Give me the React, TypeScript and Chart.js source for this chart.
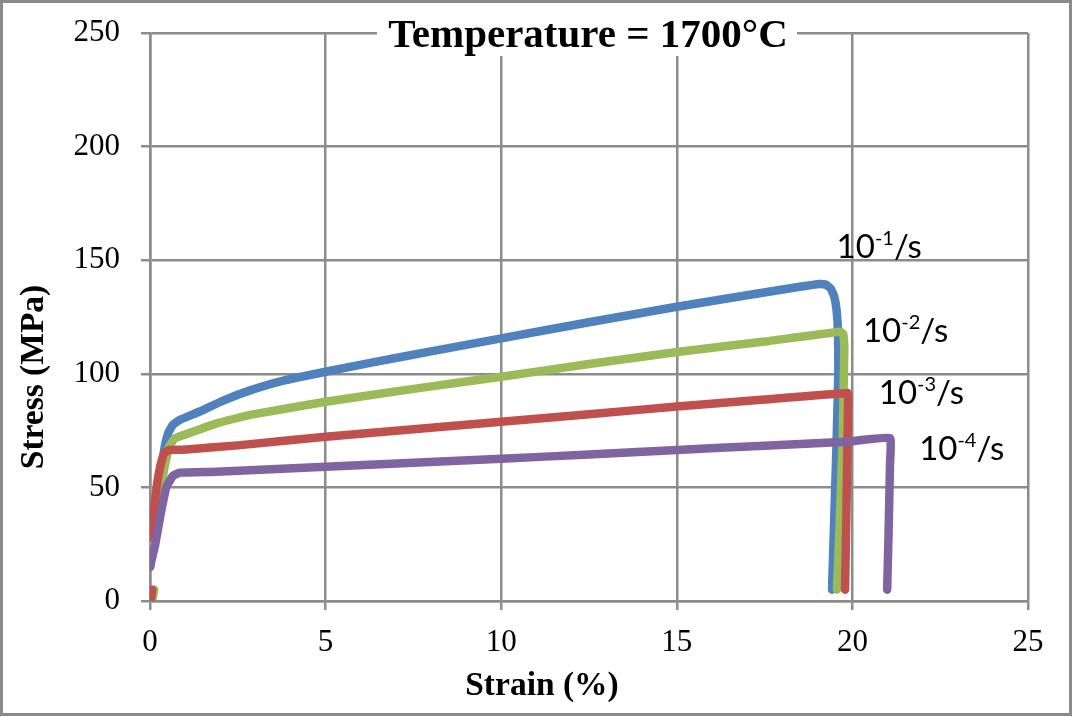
import React, { useEffect, useRef } from 'react';
import { Chart, registerables } from 'chart.js';

Chart.register(...registerables);

// ---- Data (strain %, stress MPa) ----
const strain1 = [0, 0.15, 0.3, 0.42, 0.52, 0.65, 0.85, 1.4, 2.1, 2.85, 3.8, 5, 6.6, 8, 10, 12.5, 15, 17, 18.5, 19.08, 19.25, 19.38, 19.48, 19.55, 19.59, 19.6, 19.55, 19.48, 19.42];
const stress1 = [15, 35, 55, 68, 74, 77.5, 79.7, 83.3, 88.3, 92.7, 97.0, 100.9, 105.8, 109.9, 115.6, 122.7, 129.5, 134.6, 138.3, 139.5, 139.2, 137.6, 134.2, 128, 118, 101.7, 70, 35, 5];

const strain2 = [0.08, 0.12, NaN, 0, 0.2, 0.4, 0.55, 0.7, 0.95, 1.9, 2.85, 5, 7.6, 10, 12.5, 15, 17.5, 19.65, 19.74, 19.77, 19.72, 19.64, 19.56];
const stress2 = [1.5, 5, null, 15, 38, 58, 68, 71.5, 73, 78.2, 81.9, 87.7, 93.6, 98.7, 104.3, 109.6, 114.2, 118.5, 117.5, 112, 70, 35, 5];

const strain3 = [0.03, 0.06, NaN, 0, 0.1, 0.19, 0.3, 0.4, 0.55, 0.95, 2.5, 5, 7.5, 10, 12.5, 15, 17.5, 19.86, 19.88, 19.85, 19.82, 19.79];
const stress3 = [1, 5, null, 28, 38, 50.3, 60, 65, 66.5, 66.6, 68.5, 72.3, 75.6, 78.9, 82.2, 85.6, 88.7, 91.6, 90, 60, 30, 5];

const strain4 = [0, 0.15, 0.3, 0.47, 0.65, 0.85, 1.9, 5, 7.5, 10, 12.5, 15, 17.5, 19.84, 21.07, 21.07, 21.03, 20.99];
const stress4 = [15, 25, 38, 50.3, 55, 56.5, 56.9, 59.1, 60.9, 62.6, 64.5, 66.5, 68.3, 70.1, 71.7, 60, 30, 5];

const seriesColors = ['#4F81BD', '#9BBB59', '#C0504D', '#8064A2'];

const xTicks = [0, 5, 10, 15, 20, 25];
const yTicks = [0, 50, 100, 150, 200, 250];

// Rate labels
const rateExponents = ['-1', '-2', '-3', '-4'];
const labelStrain = [19.55, 20.3, 20.75, 21.9];
const labelStress = [151, 114, 86.7, 62];

const chartTitle = 'Temperature = 1700°C';
const xTitle = 'Strain (%)';
const yTitle = 'Stress (MPa)';

const GRID = '#8c8c8c';

const pts = (xs: number[], ys: (number | null)[]) => xs.map((x, i) => ({ x, y: ys[i] }));

export default function App() {
  const ref = useRef<HTMLCanvasElement | null>(null);

  useEffect(() => {
    document.body.style.margin = '0';
    const canvas = ref.current;
    if (!canvas) return;

    const bgPlugin = {
      id: 'bg',
      beforeDraw(chart: any) {
        const { ctx, width, height } = chart;
        ctx.save();
        ctx.fillStyle = '#ffffff';
        ctx.fillRect(0, 0, width, height);
        ctx.restore();
      },
      afterDraw(chart: any) {
        const { ctx, width, height } = chart;
        ctx.save();
        ctx.strokeStyle = '#8a8a8a';
        ctx.lineWidth = 3;
        ctx.strokeRect(1.5, 1.5, width - 3, height - 3);
        // chart title with white backing
        ctx.fillStyle = '#ffffff';
        ctx.fillRect(377, 12, 420, 44);
        ctx.fillStyle = '#000000';
        ctx.font = 'bold 41px "Liberation Serif"';
        ctx.textAlign = 'center';
        ctx.textBaseline = 'middle';
        ctx.fillText(chartTitle, 588, 36);
        // axis titles
        ctx.font = 'bold 33.5px "Liberation Serif"';
        ctx.fillText(xTitle, 542, 686);
        ctx.translate(34, 377);
        ctx.rotate(-Math.PI / 2);
        ctx.fillText(yTitle, 0, 0);
        ctx.restore();
      },
    };

    const labelPlugin = {
      id: 'rateLabels',
      afterDatasetsDraw(chart: any) {
        const { ctx } = chart;
        const xs = chart.scales.x;
        const ys = chart.scales.y;
        ctx.save();
        ctx.fillStyle = '#000000';
        ctx.textAlign = 'left';
        ctx.textBaseline = 'alphabetic';
        rateExponents.forEach((exp, i) => {
          let px = xs.getPixelForValue(labelStrain[i]);
          const py = ys.getPixelForValue(labelStress[i]);
          ctx.font = '33px Lato';
          ctx.fillText('10', px, py);
          px += ctx.measureText('10').width;
          ctx.font = '20px Lato';
          ctx.fillText(exp, px, py - 13);
          px += ctx.measureText(exp).width;
          ctx.font = '33px Lato';
          ctx.fillText('/s', px, py);
        });
        ctx.restore();
      },
    };

    const mk = (label: string, xs: number[], ys: (number | null)[], color: string) => ({
      label,
      data: pts(xs, ys),
      borderColor: color,
      backgroundColor: color,
      borderWidth: 8.5,
      pointRadius: 0,
      showLine: true,
      tension: 0.1,
      borderCapStyle: 'round',
      borderJoinStyle: 'round',
      spanGaps: false,
    });

    const chart = new Chart(canvas, {
      type: 'scatter',
      data: {
        datasets: [
          mk('1e-4/s', strain4, stress4, seriesColors[3]),
          mk('1e-3/s', strain3, stress3, seriesColors[2]),
          mk('1e-2/s', strain2, stress2, seriesColors[1]),
          mk('1e-1/s', strain1, stress1, seriesColors[0]),
        ] as any,
      },
      options: {
        animation: false,
        responsive: false,
        devicePixelRatio: 1,
        layout: { padding: { left: 0, top: 33, right: 44, bottom: 0 } },
        plugins: {
          legend: { display: false },
          tooltip: { enabled: false },
          title: { display: false },
        },
        scales: {
          x: {
            type: 'linear',
            min: 0,
            max: 25,
            afterFit: (s: any) => { s.height = 115; s.paddingLeft = 0; s.paddingRight = 0; },
            afterBuildTicks: (s: any) => { s.ticks = xTicks.map((v) => ({ value: v })); },
            grid: { color: GRID, lineWidth: 2.5, tickLength: 9, drawTicks: true },
            border: { display: true, color: GRID, width: 2.5 },
            ticks: {
              color: '#000',
              padding: 14,
              maxRotation: 0,
              font: { family: '"Liberation Serif"', size: 31 },
            },
            title: { display: false },
          },
          y: {
            type: 'linear',
            min: 0,
            max: 250,
            afterFit: (s: any) => { s.width = 150; s.paddingTop = 0; s.paddingBottom = 0; },
            afterBuildTicks: (s: any) => { s.ticks = yTicks.map((v) => ({ value: v })); },
            grid: { color: GRID, lineWidth: 2.5, tickLength: 9, drawTicks: true },
            border: { display: true, color: GRID, width: 2.5 },
            ticks: {
              color: '#000',
              padding: 21,
              font: { family: '"Liberation Serif"', size: 31 },
            },
            title: { display: false },
          },
        },
      } as any,
      plugins: [bgPlugin, labelPlugin],
    });

    return () => chart.destroy();
  }, []);

  return (
    <div style={{ width: 1072, height: 716 }}>
      <canvas ref={ref} width={1072} height={716} style={{ display: 'block' }} />
    </div>
  );
}
